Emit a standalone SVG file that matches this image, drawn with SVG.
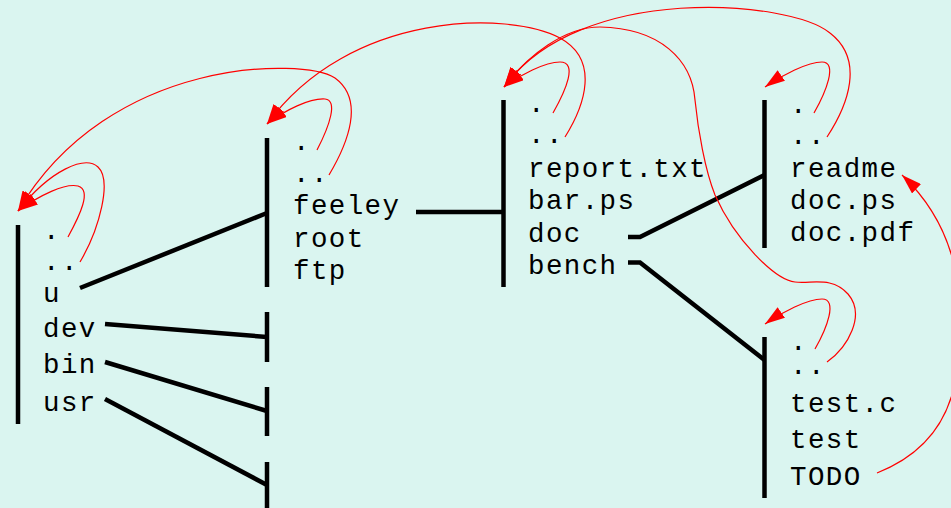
<svg xmlns="http://www.w3.org/2000/svg" width="951" height="508" viewBox="0 0 951 508">
<style>
.t{font-family:"Liberation Mono","DejaVu Sans Mono",monospace;font-size:27.5px;letter-spacing:1.4px;fill:#000}
.bar{stroke:#000;stroke-width:4.5;fill:none}
.ln{stroke:#000;stroke-width:4.5;fill:none}
.rc{stroke:#ff0000;stroke-width:1.2;fill:none;marker-end:url(#ah)}
</style>
<defs>
<marker id="ah" markerUnits="userSpaceOnUse" markerWidth="21" markerHeight="13" refX="20" refY="6.5" orient="auto">
<path d="M0,0 L20,6.5 L0,13 z" fill="#ff0000"/>
</marker>
</defs>
<rect width="951" height="508" fill="#daf5f0"/>

<g id="dir-root">
<line class="bar" x1="18" y1="225" x2="18" y2="424"/>
<text class="t" x="43" y="239">.</text>
<text class="t" x="43" y="270">..</text>
<text class="t" x="43" y="302">u</text>
<text class="t" x="43" y="337">dev</text>
<text class="t" x="43" y="373">bin</text>
<text class="t" x="43" y="411">usr</text>
</g>

<g id="dir-u">
<line class="bar" x1="267" y1="138" x2="267" y2="287"/>
<text class="t" x="293" y="150">.</text>
<text class="t" x="293" y="182">..</text>
<text class="t" x="293" y="214">feeley</text>
<text class="t" x="293" y="247">root</text>
<text class="t" x="293" y="279">ftp</text>
</g>

<g id="dir-dev"><line class="bar" x1="267" y1="312" x2="267" y2="362"/></g>
<g id="dir-bin"><line class="bar" x1="267" y1="387" x2="267" y2="436"/></g>
<g id="dir-usr"><line class="bar" x1="267" y1="462" x2="267" y2="510"/></g>

<g id="dir-feeley">
<line class="bar" x1="503.5" y1="100" x2="503.5" y2="287"/>
<text class="t" x="528" y="112">.</text>
<text class="t" x="528" y="143">..</text>
<text class="t" x="528" y="177">report.txt</text>
<text class="t" x="528" y="209">bar.ps</text>
<text class="t" x="528" y="242">doc</text>
<text class="t" x="528" y="274">bench</text>
</g>

<g id="dir-doc">
<line class="bar" x1="764.5" y1="100" x2="764.5" y2="248"/>
<text class="t" x="790" y="113">.</text>
<text class="t" x="790" y="144">..</text>
<text class="t" x="790" y="177">readme</text>
<text class="t" x="790" y="209">doc.ps</text>
<text class="t" x="790" y="241">doc.pdf</text>
</g>

<g id="dir-bench">
<line class="bar" x1="764.5" y1="337" x2="764.5" y2="498"/>
<text class="t" x="790" y="350">.</text>
<text class="t" x="790" y="374">..</text>
<text class="t" x="790" y="412">test.c</text>
<text class="t" x="790" y="448">test</text>
<text class="t" x="790" y="485">TODO</text>
</g>

<g id="connectors">
<line class="ln" x1="80" y1="288" x2="267" y2="213"/>
<line class="ln" x1="105" y1="324" x2="267" y2="337"/>
<line class="ln" x1="105" y1="362" x2="267" y2="411"/>
<line class="ln" x1="105" y1="399" x2="267" y2="485"/>
<line class="ln" x1="416" y1="212" x2="503.5" y2="212"/>
<polyline class="ln" points="628,237 640,237 764.5,175"/>
<polyline class="ln" points="628,262.5 640,262.5 764.5,360"/>

<path class="rc" d="M68,237 C80,215 92,190 78,186 C65,183 40,195 18,211"/>
<path class="rc" d="M80,262 C100,228 112,180 98,167 C85,155 50,170 18,211"/>
<path class="rc" d="M329,175 C348,143 365,100 335,78 C305,58 110,55 18,211"/>
<path class="rc" d="M317,150 C330,125 338,100 325,99 C310,98 285,110 267,124"/>
<path class="rc" d="M565,137 C585,105 600,60 560,38 C510,11 350,10 267,124"/>
<path class="rc" d="M553,113 C566,90 578,62 560,62 C545,62 520,75 504,87"/>
<path class="rc" d="M827,137 C848,105 865,60 830,33 C790,0 580,-18 504,87"/>
<path class="rc" d="M827,362 C848,347 866,315 848,294 C832,276 812,284 795,282 C775,280 735,240 715,195 C705,170 698,130 695,100 C692,60 660,28 600,27 C565,27 528,55 504,87"/>
<path class="rc" d="M814,113 C826,92 838,62 822,62 C808,62 782,75 765,87"/>
<path class="rc" d="M815,349 C827,328 838,299 822,299 C808,299 782,312 765,324"/>
<path class="rc" d="M877,473 C915,458 950,430 957,370 C966,300 960,230 902,175"/>
</g>
</svg>
